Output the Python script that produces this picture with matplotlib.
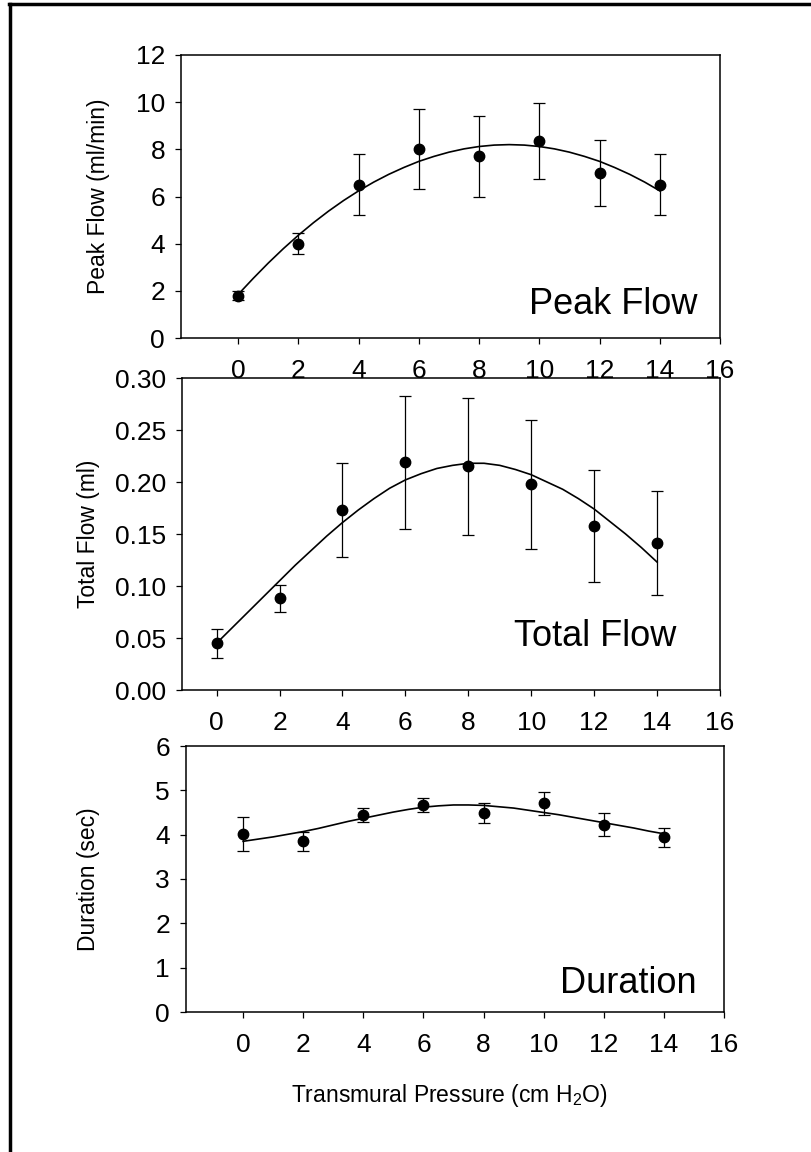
import numpy as np
import matplotlib
matplotlib.use("Agg")
import matplotlib.pyplot as plt
from matplotlib.lines import Line2D

plt.rcParams['font.family'] = ['Liberation Sans', 'DejaVu Sans']
plt.rcParams['mathtext.fontset'] = 'custom'
plt.rcParams['mathtext.rm'] = 'Liberation Sans'

# ── data ──────────────────────────────────────────────────────────────────────
pressure = [0, 2, 4, 6, 8, 10, 12, 14]

peak_mean = [1.8, 4.0, 6.5, 8.0, 7.7, 8.35, 7.0, 6.5]
peak_err  = [0.2, 0.45, 1.3, 1.7, 1.7, 1.6, 1.4, 1.3]

total_mean = [0.045, 0.088, 0.173, 0.219, 0.215, 0.198, 0.158, 0.141]
total_err  = [0.014, 0.013, 0.045, 0.064, 0.066, 0.062, 0.054, 0.050]

dur_mean = [4.02, 3.85, 4.45, 4.67, 4.49, 4.71, 4.22, 3.94]
dur_err  = [0.38, 0.22, 0.16, 0.15, 0.23, 0.26, 0.26, 0.22]

# fitted curves, read every 0.5 cm H2O
fit_x = [0, 0.5, 1, 1.5, 2, 2.5, 3, 3.5, 4, 4.5, 5, 5.5, 6, 6.5, 7, 7.5,
         8, 8.5, 9, 9.5, 10, 10.5, 11, 11.5, 12, 12.5, 13, 13.5, 14]
peak_fit = [1.85, 2.53, 3.18, 3.79, 4.36, 4.89, 5.38, 5.83, 6.24, 6.61,
            6.94, 7.23, 7.49, 7.70, 7.88, 8.02, 8.12, 8.18, 8.20, 8.18,
            8.12, 8.02, 7.88, 7.70, 7.49, 7.23, 6.94, 6.61, 6.24]
total_fit = [0.045, 0.060, 0.075, 0.090, 0.105, 0.120, 0.134, 0.148, 0.161,
             0.173, 0.184, 0.194, 0.202, 0.208, 0.213, 0.216, 0.218, 0.218,
             0.216, 0.212, 0.207, 0.200, 0.193, 0.184, 0.174, 0.162, 0.150,
             0.137, 0.123]
dur_fit = [3.85, 3.90, 3.95, 4.01, 4.07, 4.14, 4.22, 4.30, 4.37, 4.44,
           4.51, 4.57, 4.62, 4.65, 4.67, 4.67, 4.66, 4.63, 4.60, 4.55,
           4.50, 4.45, 4.39, 4.33, 4.27, 4.21, 4.15, 4.08, 4.02]

W, H = 812, 1152
fig = plt.figure(figsize=(W / 100, H / 100), dpi=100)


def px_axes(left, right, top, bottom):
    return fig.add_axes([left / W, 1 - bottom / H, (right - left) / W, (bottom - top) / H])


panels = [
    # (box px, xlim left, ylim, yticks, fmt, ylabel, label x, mean, err, fit, tag, tag x, tag y)
    ((181, 720, 55, 338), -1.9, (0, 12), np.arange(0, 13, 2), '{:.0f}',
     'Peak Flow (ml/min)', -0.132, peak_mean, peak_err, peak_fit, 'Peak Flow', 15.25, 1.4),
    ((182, 720, 378, 690), -1.1, (0, 0.30), np.arange(0, 0.31, 0.05), '{:.2f}',
     'Total Flow (ml)', -0.152, total_mean, total_err, total_fit, 'Total Flow', 14.6, 0.051),
    ((186, 724, 746, 1012), -1.9, (0, 6), np.arange(0, 7, 1), '{:.0f}',
     'Duration (sec)', -0.16, dur_mean, dur_err, dur_fit, 'Duration', 15.1, 0.65),
]

axes = []
for box, xl, yl, yt, fmt, ylab, labx, mean, err, fit, tag, tx, ty in panels:
    ax = px_axes(*box)
    ax.plot(fit_x, fit, color='black', lw=1.2, zorder=2)
    ax.errorbar(pressure, mean, yerr=err, fmt='o', color='black', ms=7.5,
                elinewidth=0.9, capsize=4, capthick=0.9, zorder=3)
    ax.set_xlim(xl, 16)
    ax.set_ylim(*yl)
    ax.set_xticks(np.arange(0, 17, 2))
    ax.set_yticks(yt)
    ax.set_yticklabels([fmt.format(v) for v in yt])
    ax.tick_params(axis='x', direction='out', length=4, width=0.9, pad=11, labelsize=19)
    ax.tick_params(axis='y', direction='out', length=4.5, width=0.9, pad=7, labelsize=19)
    for s in ax.spines.values():
        s.set_linewidth(1.1)
    ax.set_ylabel(ylab, fontsize=16.5)
    ax.yaxis.set_label_coords(labx, 0.5)
    ax.text(tx, ty, tag, fontsize=26, ha='right', va='center')
    axes.append(ax)

axes[-1].set_xlabel(r'Transmural Pressure (cm H$_2$O)', fontsize=16.5)
axes[-1].xaxis.set_label_coords(0.49, -0.263)

# scanned page frame (top and left edges)
fig.add_artist(Line2D([9 / W, 1], [1 - 4 / H, 1 - 4 / H], color='black', lw=2.5))
fig.add_artist(Line2D([10 / W, 10 / W], [0, 1 - 4 / H], color='black', lw=2.5))

fig.savefig('out.png', dpi=100)
